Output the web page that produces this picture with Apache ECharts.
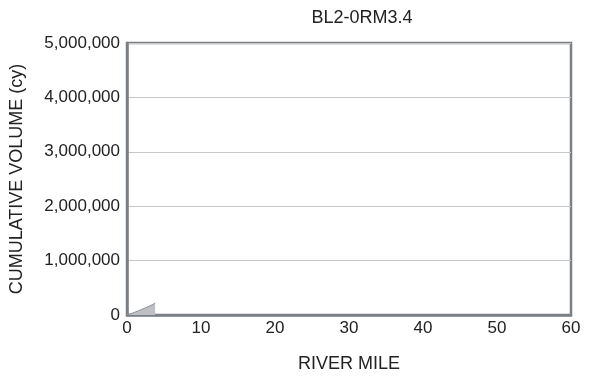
<!DOCTYPE html>
<html>
<head>
<meta charset="utf-8">
<style>
  html, body { margin: 0; padding: 0; background: #fff; }
  #chart { width: 594px; height: 377px; }
</style>
<script src="https://cdn.jsdelivr.net/npm/echarts@6/dist/echarts.min.js"></script>
</head>
<body>
<div id="chart"></div>
<script>
// Cumulative volume along the reach (river mile, cubic yards)
const riverMile = [0, 0.5, 1.0, 1.5, 2.0, 2.5, 3.0, 3.5, 3.8];
const cumulativeVolume = [0, 22000, 48000, 75000, 103000, 132000, 161000, 195000, 220000];
const xTicks = [0, 10, 20, 30, 40, 50, 60];
const yTicks = [0, 1000000, 2000000, 3000000, 4000000, 5000000];
const chartTitle = 'BL2-0RM3.4';

const font = 'Liberation Sans, Arial, sans-serif';
const textColor = '#222';
const frameColor = '#7b8087';
const chart = echarts.init(document.getElementById('chart'));

chart.setOption({
  animation: false,
  title: {
    text: chartTitle,
    left: 357, top: 4, textAlign: 'center',
    textStyle: { fontFamily: font, fontSize: 18, fontWeight: 'normal', color: textColor }
  },
  grid: {
    left: 127, right: 23, top: 43, bottom: 62,
    outerBoundsMode: 'none', containLabel: false,
    show: true, borderColor: frameColor, borderWidth: 2.5
  },
  xAxis: {
    type: 'value', min: xTicks[0], max: xTicks[xTicks.length - 1], interval: 10,
    name: 'RIVER MILE', nameLocation: 'middle', nameGap: 40,
    nameTextStyle: { fontFamily: font, fontSize: 18, color: textColor },
    axisLine: { show: true, lineStyle: { color: frameColor, width: 2.5 } },
    axisTick: { show: false },
    splitLine: { show: false },
    axisLabel: { fontFamily: font, fontSize: 17, color: textColor, margin: 5 }
  },
  yAxis: {
    type: 'value', min: yTicks[0], max: yTicks[yTicks.length - 1], interval: 1000000,
    name: 'CUMULATIVE VOLUME (cy)', nameLocation: 'middle', nameGap: 101, nameRotate: 90,
    nameTextStyle: { fontFamily: font, fontSize: 18, color: textColor },
    axisLine: { show: true, lineStyle: { color: frameColor, width: 2.5 } },
    axisTick: { show: false },
    splitLine: { show: true, lineStyle: { color: '#c8c8c8', width: 1 } },
    axisLabel: {
      fontFamily: font, fontSize: 17, color: textColor, margin: 7,
      formatter: v => v.toLocaleString('en-US')
    }
  },
  series: [{
    type: 'line',
    data: riverMile.map((m, i) => [m, cumulativeVolume[i]]),
    showSymbol: false,
    lineStyle: { color: '#8c8f96', width: 1 },
    areaStyle: { color: '#bfc0c6', opacity: 1 }
  }]
});
</script>
</body>
</html>
